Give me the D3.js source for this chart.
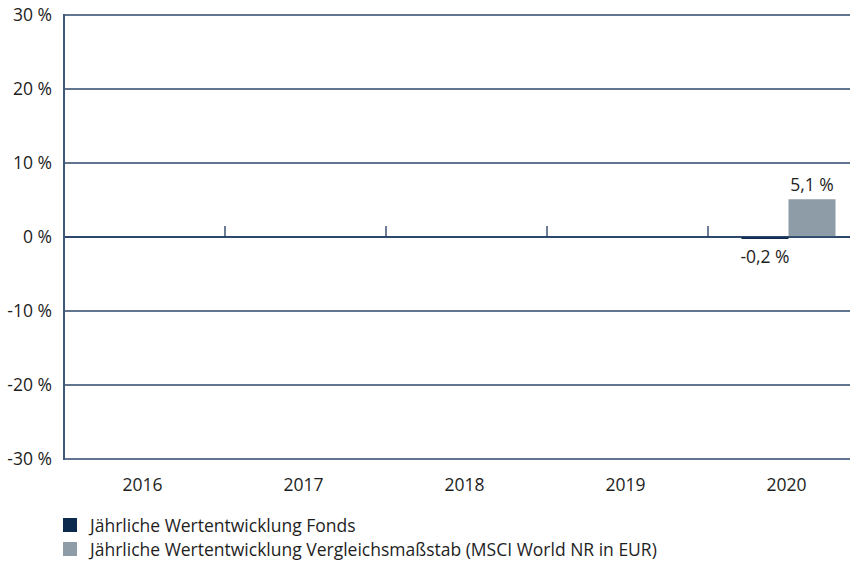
<!DOCTYPE html>
<html>
<head>
<meta charset="utf-8">
<script src="https://cdn.jsdelivr.net/npm/d3@7"></script>
<style>
  body { margin: 0; background: #fff; }
  text { font-family: "Open Sans", sans-serif; fill: #1e1e1e; }
</style>
</head>
<body>
<svg id="chart"></svg>
<script>
let years = ['2016', '2017', '2018', '2019', '2020']
let fonds = [null, null, null, null, -0.2]
let benchmark = [null, null, null, null, 5.1]
let yTicks = [30, 20, 10, 0, -10, -20, -30]
let legendLabels = ['Jährliche Wertentwicklung Fonds',
                    'Jährliche Wertentwicklung Vergleichsmaßstab (MSCI World NR in EUR)']
let colors = ['#0b2a4e', '#8d9ca6']

let svg = d3.select('#chart')
            .attr('width', 861)
            .attr('height', 564)

let plotLeft = 64, plotRight = 850, plotTop = 15, plotBottom = 459
let fs = '17.5px'

let x = d3.scaleBand()
          .domain(years)
          .range([plotLeft, plotLeft + 161 * 5])

let y = d3.scaleLinear()
          .domain([-30, 30])
          .range([plotBottom, plotTop])

let fmt = (v) => String(v).replace('.', ',') + ' %'

// gridlines
svg.selectAll('.grid')
   .data(yTicks)
   .enter()
   .append('line')
   .attr('x1', plotLeft)
   .attr('x2', plotRight)
   .attr('y1', (d) => y(d))
   .attr('y2', (d) => y(d))
   .attr('stroke', '#2c4768')
   .attr('stroke-width', 1.3)

// y labels
svg.selectAll('.ylab')
   .data(yTicks)
   .enter()
   .append('text')
   .attr('x', 52)
   .attr('y', (d) => y(d) + 6)
   .attr('text-anchor', 'end')
   .attr('font-size', fs)
   .text((d) => d + ' %')

// small ticks on zero line between years
svg.selectAll('.tick')
   .data(years.slice(1))
   .enter()
   .append('line')
   .attr('x1', (d) => x(d))
   .attr('x2', (d) => x(d))
   .attr('y1', y(0) - 11)
   .attr('y2', y(0))
   .attr('stroke', '#1d3a5f')
   .attr('stroke-width', 1.3)

let bw = 47

// fonds bars
svg.selectAll('.fonds')
   .data(years.map((d, i) => ({year: d, v: fonds[i]})).filter((d) => d.v !== null))
   .enter()
   .append('rect')
   .attr('x', (d) => x(d.year) + x.bandwidth() / 2 - bw)
   .attr('width', bw)
   .attr('y', (d) => y(Math.max(0, d.v)))
   .attr('height', (d) => Math.max(2, Math.abs(y(d.v) - y(0))))
   .attr('fill', colors[0])

// benchmark bars
svg.selectAll('.bench')
   .data(years.map((d, i) => ({year: d, v: benchmark[i]})).filter((d) => d.v !== null))
   .enter()
   .append('rect')
   .attr('x', (d) => x(d.year) + x.bandwidth() / 2)
   .attr('width', bw)
   .attr('y', (d) => y(Math.max(0, d.v)))
   .attr('height', (d) => Math.abs(y(d.v) - y(0)))
   .attr('fill', colors[1])

// zero line on top
svg.append('line')
   .attr('x1', plotLeft)
   .attr('x2', plotRight)
   .attr('y1', y(0))
   .attr('y2', y(0))
   .attr('stroke', '#1d3a5f')
   .attr('stroke-width', 1.5)

// value labels
years.forEach((yr, i) => {
    if (fonds[i] !== null) {
        svg.append('text')
           .attr('x', x(yr) + x.bandwidth() / 2 - bw / 2)
           .attr('y', fonds[i] < 0 ? y(0) + 26 : y(fonds[i]) - 8)
           .attr('text-anchor', 'middle')
           .attr('font-size', fs)
           .text(fmt(fonds[i]))
    }
    if (benchmark[i] !== null) {
        svg.append('text')
           .attr('x', x(yr) + x.bandwidth() / 2 + bw / 2)
           .attr('y', benchmark[i] < 0 ? y(benchmark[i]) + 20 : y(benchmark[i]) - 8)
           .attr('text-anchor', 'middle')
           .attr('font-size', fs)
           .text(fmt(benchmark[i]))
    }
})

// left axis line
svg.append('line')
   .attr('x1', plotLeft)
   .attr('x2', plotLeft)
   .attr('y1', plotTop - 1)
   .attr('y2', plotBottom + 1)
   .attr('stroke', '#3d5878')
   .attr('stroke-width', 2)

// x labels
svg.selectAll('.xlab')
   .data(years)
   .enter()
   .append('text')
   .attr('x', (d) => x(d) + x.bandwidth() / 2 - 2)
   .attr('y', 491)
   .attr('text-anchor', 'middle')
   .attr('font-size', fs)
   .text((d) => d)

// legend
let legend = svg.selectAll('.legend')
                .data(legendLabels)
                .enter()
                .append('g')
                .attr('transform', (d, i) => 'translate(63, ' + (518 + i * 24) + ')')
legend.append('rect')
      .attr('width', 14)
      .attr('height', 14)
      .attr('fill', (d, i) => colors[i])
legend.append('text')
      .attr('x', 27)
      .attr('y', 14)
      .attr('font-size', fs)
      .text((d) => d)
</script>
</body>
</html>
